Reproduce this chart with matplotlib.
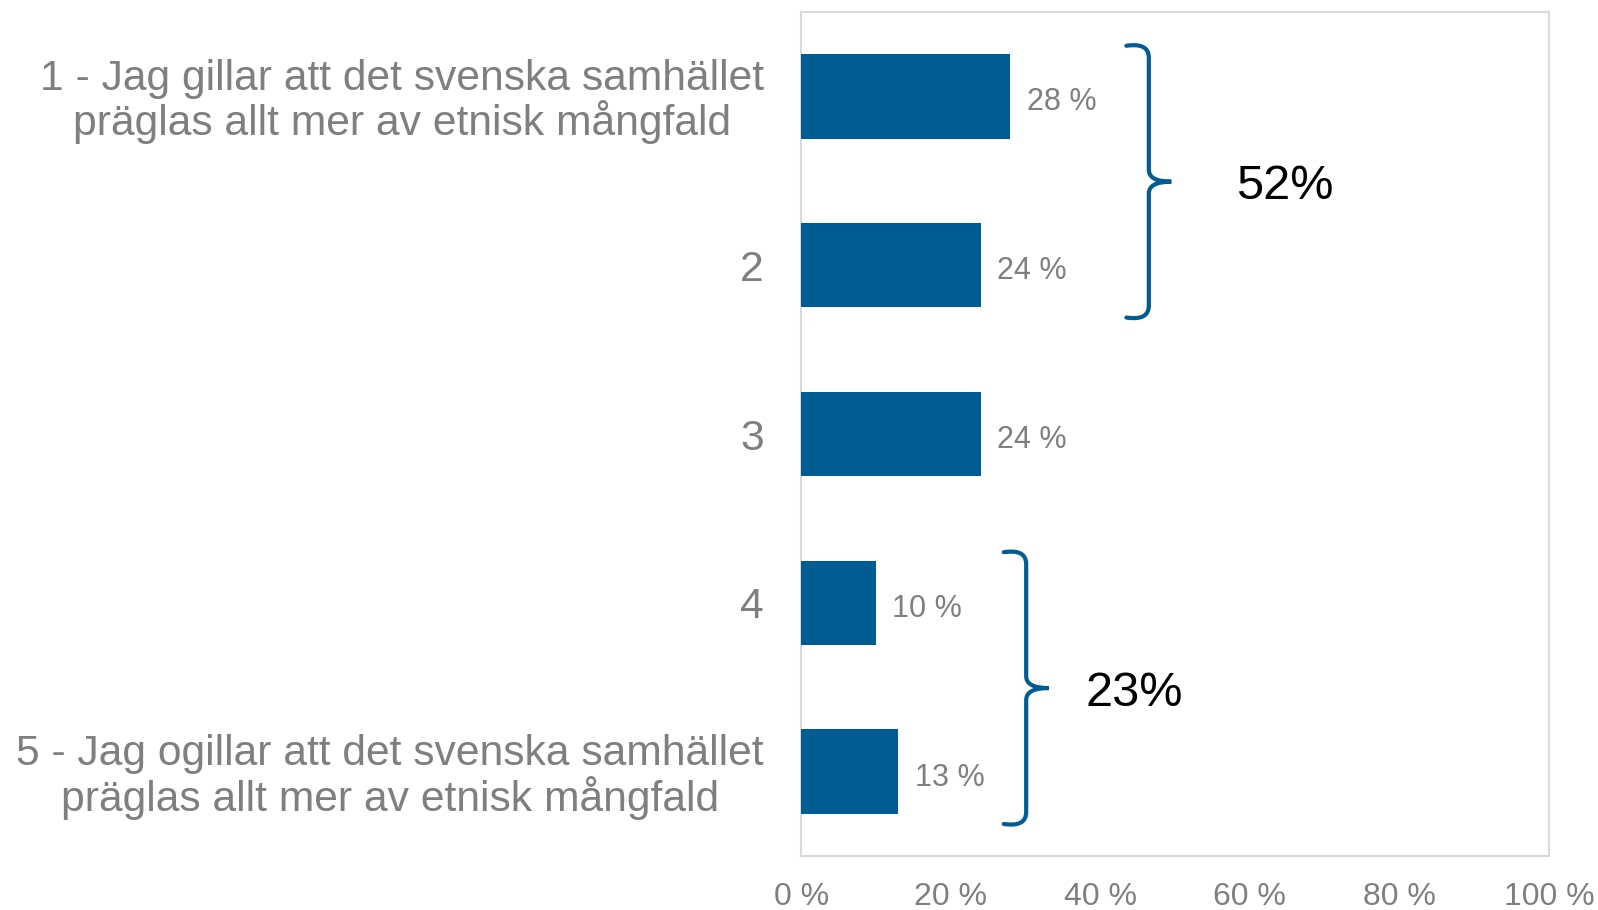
import matplotlib
matplotlib.use("Agg")
import matplotlib.pyplot as plt
from matplotlib.path import Path
from matplotlib.patches import PathPatch

# data
categories = [
    "1 - Jag gillar att det svenska samhället\npräglas allt mer av etnisk mångfald",
    "2",
    "3",
    "4",
    "5 - Jag ogillar att det svenska samhället\npräglas allt mer av etnisk mångfald",
]
values = [28, 24, 24, 10, 13]
groups = [(0, 1, "52%"), (3, 4, "23%")]
xticks = [0, 20, 40, 60, 80, 100]

# layout of the brace annotations (offset from group max, label gap from tip)
brace_offsets = [15.5, 14.1]
label_gaps = [8.6, 4.9]

blue = "#005C93"
grey = "#7F7F7F"
plt.rcParams["font.family"] = ["Liberation Sans", "DejaVu Sans"]

fig = plt.figure(figsize=(15.98, 9.10), dpi=100)
ax = fig.add_axes([0.5013, 0.0593, 0.468, 0.9275])

y = list(range(len(categories)))
ax.barh(y, values, height=0.5, color=blue, zorder=3)
for yi, v in zip(y, values):
    ax.text(v + 2.2, yi + 0.035, f"{v} %", va="center", ha="left", fontsize=22, color=grey)

ax.set_xlim(0, 100)
ax.set_ylim(len(categories) - 0.5, -0.5)
ax.set_yticks(y)
ax.set_yticklabels(categories, fontsize=30.7, color=grey, linespacing=1.04,
                   multialignment="center")
ax.set_xticks(xticks)
ax.set_xticklabels([f"{t} %" for t in xticks], fontsize=23, color=grey)
ax.tick_params(axis="y", length=0, pad=27)
ax.tick_params(axis="x", length=0, pad=19)
for s in ax.spines.values():
    s.set_color("#D9D9D9")
    s.set_linewidth(1.5)


def brace(ax, x0, y0, y1, label, gap):
    xm = x0 + 3.0
    xt = x0 + 6.0
    ym = (y0 + y1) / 2
    r = 0.07
    verts = [
        (x0, y0), (xm, y0 - 0.02), (xm, y0 + r),
        (xm, ym - r),
        (xm, ym), (xt, ym),
        (xm, ym), (xm, ym + r),
        (xm, y1 - r),
        (xm, y1 + 0.02), (x0, y1),
    ]
    codes = [Path.MOVETO, Path.CURVE3, Path.CURVE3, Path.LINETO,
             Path.CURVE3, Path.CURVE3, Path.CURVE3, Path.CURVE3,
             Path.LINETO, Path.CURVE3, Path.CURVE3]
    ax.add_patch(PathPatch(Path(verts, codes), fill=False, edgecolor=blue,
                           linewidth=3, capstyle="round", clip_on=False))
    ax.text(xt + gap, ym + 0.03, label, fontsize=35, color="black", va="center", ha="left")


for (a, b, lab), off, gap in zip(groups, brace_offsets, label_gaps):
    x0 = max(values[a:b + 1]) + off
    brace(ax, x0, a - 0.3, b + 0.31, lab, gap)

fig.savefig("out.png", dpi=100, facecolor="white")
